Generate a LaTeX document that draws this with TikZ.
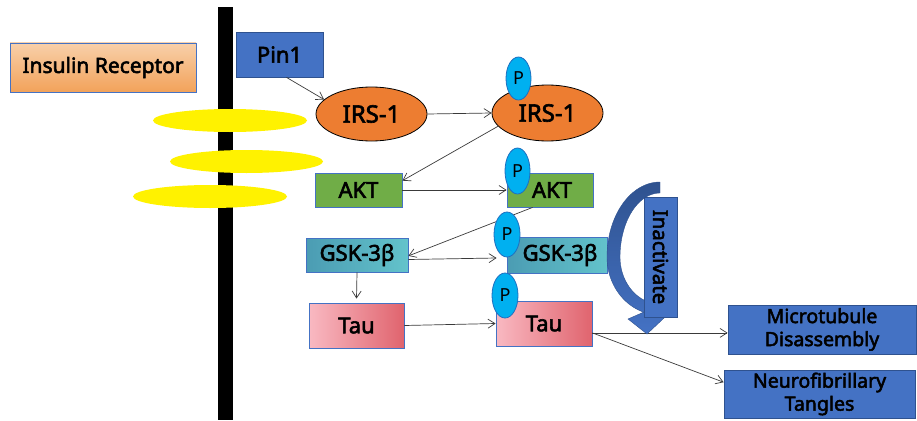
\documentclass[tikz,border=0pt]{standalone}
\usepackage{fontspec}
\setmainfont{Noto Sans}
\newfontfamily\lblfont{Noto Sans}[FakeBold=2.6]
\usetikzlibrary{shapes.geometric,arrows.meta,calc}

\definecolor{edgeblue}{HTML}{4472C4}
\definecolor{darkblue}{HTML}{2F528F}
\definecolor{boxblue}{HTML}{4472C4}
\definecolor{irsorange}{HTML}{ED7D31}
\definecolor{pcyan}{HTML}{00B0F0}
\definecolor{pedge}{HTML}{1F6FC0}
\definecolor{aktgreen}{HTML}{70AD47}
\definecolor{gskleft}{HTML}{4B9CB3}
\definecolor{gskright}{HTML}{63C3CB}
\definecolor{tauleft}{HTML}{F9B9C2}
\definecolor{tauright}{HTML}{E0646E}
\definecolor{irtop}{HTML}{F8D0AA}
\definecolor{irbottom}{HTML}{F2A25A}
\definecolor{linegray}{HTML}{3A3A3A}

\tikzset{
  lbl/.style={font=\lblfont\fontsize{20}{23}\selectfont, text=black, inner sep=0pt, align=center},
  fsz/.style={font=\lblfont\fontsize{#1}{23}\selectfont},
  edged/.style={lbl, draw=edgeblue, line width=0.8pt},
  bluebox/.style={edged, fill=boxblue, draw=darkblue},
  greenbox/.style={edged, fill=aktgreen, fsz=22},
  gskbox/.style={edged, left color=gskleft, right color=gskright, fsz=22},
  taubox/.style={edged, left color=tauleft, right color=tauright, fsz=22},
  irsnode/.style={lbl, ellipse, fill=irsorange, draw=black, line width=0.8pt, fsz=24},
  phos/.style={ellipse, fill=pcyan, draw=pedge, line width=0.8pt, inner sep=0pt,
    minimum width=25pt, minimum height=44pt,
    font=\fontsize{18}{20}\selectfont, text=black},
  membrane/.style={ellipse, fill=yellow, inner sep=0pt, minimum width=154pt, minimum height=23pt},
  arr/.style={draw=linegray, line width=0.7pt, -{Straight Barb[length=7pt,width=9pt]}},
}

\begin{document}
\begin{tikzpicture}[x=1pt,y=-1pt]
\useasboundingbox (0,0) rectangle (917,420);

% cell membrane: black bar crossed by the receptor subunits
\fill[black] (218,7) rectangle (233,420);
\node[membrane] (m1) at (230,120.5) {};
\node[membrane, minimum width=153pt] (m2) at (246.5,161.5) {};
\node[membrane] (m3) at (210,196.5) {};

% labels and proteins
\node[edged, top color=irtop, bottom color=irbottom, minimum width=186pt, minimum height=49pt, fsz=21] (ir) at (103,67.5) {Insulin Receptor};
\node[bluebox, minimum width=87pt, minimum height=45pt, fsz=22] (pin) at (279.5,54.5) {Pin1};

\node[irsnode, minimum width=111pt, minimum height=54pt] (irs1) at (371.5,114) {IRS-1};
\node[irsnode, minimum width=111pt, minimum height=56pt] (irs2) at (547.5,113) {IRS-1};

\node[greenbox, minimum width=87pt, minimum height=34pt] (akt1) at (358.5,190) {AKT};
\node[greenbox, minimum width=86pt, minimum height=34pt] (akt2) at (550,190) {\hspace*{4pt}AKT};

\node[gskbox, minimum width=102pt, minimum height=34pt] (gsk1) at (357,255) {GSK-3β};
\node[gskbox, minimum width=100pt, minimum height=36pt] (gsk2) at (557,255) {\hspace*{6pt}GSK-3β};

\node[taubox, minimum width=95pt, minimum height=45pt] (tau1) at (356.5,325.5) {Tau};
\node[taubox, minimum width=96pt, minimum height=45pt] (tau2) at (544,323.5) {Tau};

\node[bluebox, minimum width=188pt, minimum height=49pt, fsz=19.5] (mt) at (822,329.5) {Microtubule\\Disassembly};
\node[bluebox, minimum width=191pt, minimum height=48pt, fsz=19.5] (nft) at (819.5,394) {Neurofibrillary\\Tangles};

% connectors
\draw[arr] ([xshift=7pt]pin.south) -- (irs1.163);
\draw[arr] (irs1.east) -- (irs2.west);
\draw[arr] (irs2.195) -- (akt1.12);
\draw[arr] (akt1.east) -- (akt2.west);
\draw[arr] (akt2.-135) -- (gsk1.-1);
\draw[arr] (gsk1.-5) -- ([xshift=-10pt,yshift=-3pt]gsk2.west);
\draw[arr] (gsk1.south) -- ([yshift=4pt]tau1.north);
\draw[arr] (tau1.east) -- (tau2.west);
\draw[arr] (tau2.-11) -- (tau2.-11 -| mt.west);
\draw[arr] (tau2.-11) -- (nft.173);

% curved "inactivate" arrow behind its label
\shade[top color=darkblue, bottom color=boxblue, draw=darkblue, line width=0.4pt]
  plot[domain=-90:-180, samples=40] ({660+53*cos(\x)},{257+75*sin(\x)})
  -- plot[domain=180:108, samples=40] ({660+53*cos(\x)},{257+58*sin(\x)})
  -- (628,319) -- (647,334) -- (664,318)
  -- plot[domain=100:180, samples=40] ({660+40*cos(\x)},{257+47*sin(\x)})
  -- plot[domain=-180:-90, samples=40] ({660+40*cos(\x)},{257+64*sin(\x)})
  -- cycle;
\node[bluebox, rotate=-90, minimum width=120pt, minimum height=33pt, fsz=20.5] (inact) at (660.5,257) {Inactivate};

% phosphate groups
\node[phos, minimum height=43pt] (p1) at (518.5,78.5) {P};
\node[phos, minimum height=46pt] (p2) at (517.5,171) {P};
\node[phos, minimum width=26pt, minimum height=45pt] (p3) at (507,234.5) {P};
\node[phos, minimum width=26pt, minimum height=45pt] (p4) at (505,295.5) {P};
\end{tikzpicture}
\end{document}
